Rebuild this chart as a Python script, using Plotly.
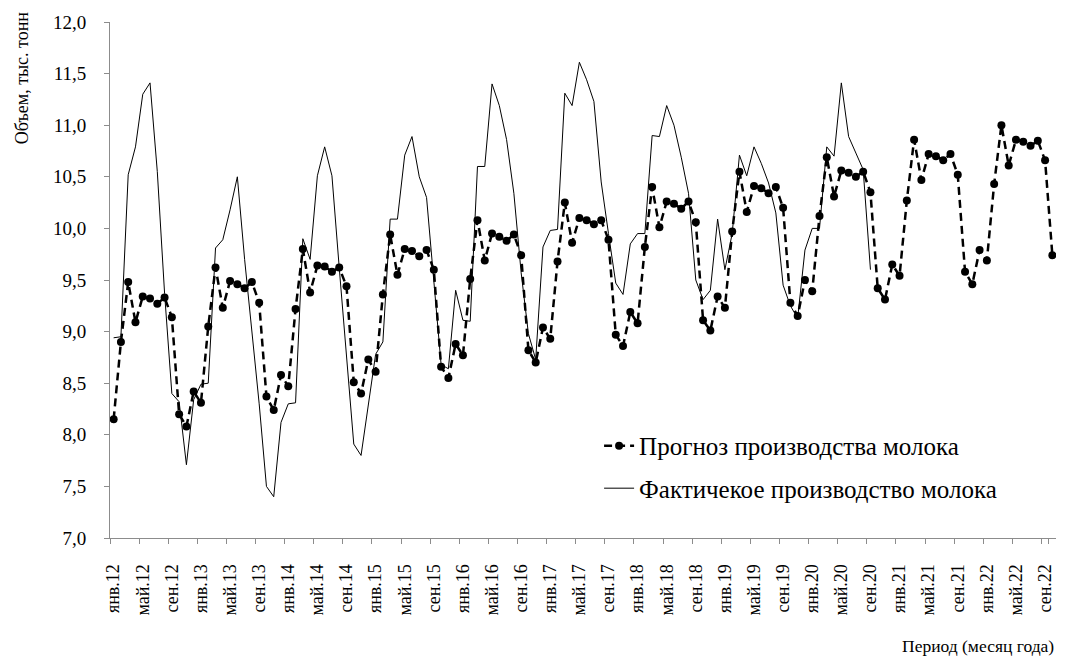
import plotly.graph_objects as go

month_names = ["янв", "фев", "мар", "апр", "май", "июн", "июл", "авг", "сен", "окт", "ноя", "дек"]
years = ["12", "13", "14", "15", "16", "17", "18", "19", "20", "21", "22"]
periods = [f"{m}.{y}" for y in years for m in month_names][:130]

# Прогноз производства молока, тыс. тонн (янв.12 - окт.22)
forecast = [
    8.15, 8.90, 9.48, 9.09, 9.34, 9.32, 9.27, 9.33, 9.14, 8.20, 8.08, 8.42,
    8.31, 9.05, 9.62, 9.23, 9.49, 9.46, 9.42, 9.48, 9.28, 8.37, 8.24, 8.58,
    8.47, 9.22, 9.80, 9.38, 9.64, 9.63, 9.58, 9.62, 9.44, 8.51, 8.40, 8.73,
    8.61, 9.36, 9.94, 9.55, 9.80, 9.78, 9.73, 9.79, 9.60, 8.66, 8.55, 8.88,
    8.77, 9.51, 10.08, 9.69, 9.95, 9.92, 9.88, 9.94, 9.74, 8.82, 8.70, 9.04,
    8.93, 9.68, 10.25, 9.86, 10.10, 10.08, 10.04, 10.08, 9.89, 8.97, 8.86, 9.19,
    9.08, 9.82, 10.40, 10.01, 10.26, 10.24, 10.19, 10.26, 10.06, 9.11, 9.01, 9.34,
    9.23, 9.97, 10.55, 10.16, 10.41, 10.39, 10.34, 10.40, 10.20, 9.28, 9.15, 9.50,
    9.39, 10.12, 10.69, 10.31, 10.56, 10.54, 10.50, 10.55, 10.35, 9.42, 9.31, 9.65,
    9.54, 10.27, 10.86, 10.47, 10.72, 10.70, 10.66, 10.72, 10.52, 9.58, 9.46, 9.79,
    9.69, 10.43, 11.00, 10.61, 10.86, 10.84, 10.80, 10.85, 10.66, 9.74,
]

# Фактическое производство молока, тыс. тонн (янв.12 - сен.20)
actual = [
    8.94, 8.95, 10.52, 10.79, 11.30, 11.41, 10.55, 9.37, 8.40, 8.32, 7.71, 8.34,
    8.49, 8.50, 9.81, 9.89, 10.18, 10.50, 9.70, 9.00, 8.30, 7.50, 7.40, 8.12,
    8.30, 8.31, 9.90, 9.70, 10.51, 10.79, 10.51, 9.62, 8.76, 7.91, 7.80, 8.30,
    8.78, 8.90, 10.09, 10.09, 10.71, 10.89, 10.50, 10.30, 9.50, 8.68, 8.64, 9.40,
    9.11, 9.10, 10.60, 10.60, 11.40, 11.19, 10.86, 10.34, 9.57, 8.98, 8.73, 9.82,
    9.98, 9.99, 11.31, 11.19, 11.61, 11.44, 11.23, 10.45, 9.95, 9.47, 9.36, 9.85,
    9.95, 9.95, 10.90, 10.89, 11.19, 11.00, 10.69, 10.34, 9.50, 9.31, 9.40, 10.09,
    9.60, 9.95, 10.71, 10.51, 10.79, 10.63, 10.44, 10.15, 9.45, 9.25, 9.13, 9.79,
    10.00, 10.00, 10.79, 10.70, 11.41, 10.89, 10.73, 10.57, 9.60,
]

serif = "'Liberation Serif'"
axis_grey = "#8c8c8c"

fig = go.Figure()
fig.add_trace(go.Scatter(
    x=periods[:len(forecast)], y=forecast,
    name="Прогноз производства молока",
    mode="lines+markers",
    line=dict(color="black", width=2.5, dash="8px,5px"),
    marker=dict(symbol="circle", size=8, color="black"),
    legendgroup="f",
))
fig.add_trace(go.Scatter(
    x=periods[:len(actual)], y=actual,
    name="Фактичекое производство молока",
    mode="lines",
    line=dict(color="black", width=1),
    legendgroup="a",
))

fig.update_layout(
    width=1049, height=648,
    margin=dict(l=102, r=1, t=14, b=118),
    paper_bgcolor="white", plot_bgcolor="white",
    separators=", ",
    font=dict(family=serif, color="black"),
    showlegend=True,
    legend=dict(
        x=0.517, y=0.223, xanchor="left", yanchor="top",
        font=dict(family=serif, size=25, color="black"),
        bgcolor="rgba(0,0,0,0)",
        traceorder="grouped", tracegroupgap=7,
    ),
    xaxis=dict(
        type="category",
        categoryorder="array", categoryarray=periods,
        range=[-0.5, len(periods) - 0.5],
        tickvals=periods[::4], ticktext=periods[::4],
        tickson="boundaries",
        ticks="outside", ticklen=5, tickcolor=axis_grey,
        tickangle=-90,
        tickfont=dict(family=serif, size=18, color="black"),
        ticklabelstandoff=18,
        automargin=False,
        showline=True, linecolor=axis_grey, linewidth=1,
        showgrid=False, zeroline=False,
    ),
    yaxis=dict(
        range=[7, 12], dtick=0.5, tick0=7,
        tickformat=".1f",
        ticks="outside", ticklen=5, tickcolor=axis_grey,
        tickfont=dict(family=serif, size=19, color="black"),
        ticklabelstandoff=14,
        automargin=False,
        showline=True, linecolor=axis_grey, linewidth=1,
        showgrid=False, zeroline=False,
    ),
    annotations=[
        dict(text="Объем, тыс. тонн", xref="paper", yref="paper",
             x=-0.093, y=0.891, xanchor="center", yanchor="middle",
             textangle=-90, showarrow=False,
             font=dict(family=serif, size=18, color="black")),
        dict(text="Период (месяц года)", xref="paper", yref="paper",
             x=1.0, y=-0.209, xanchor="right", yanchor="middle",
             showarrow=False,
             font=dict(family=serif, size=17.5, color="black")),
    ],
)

fig.write_html("out.html")
